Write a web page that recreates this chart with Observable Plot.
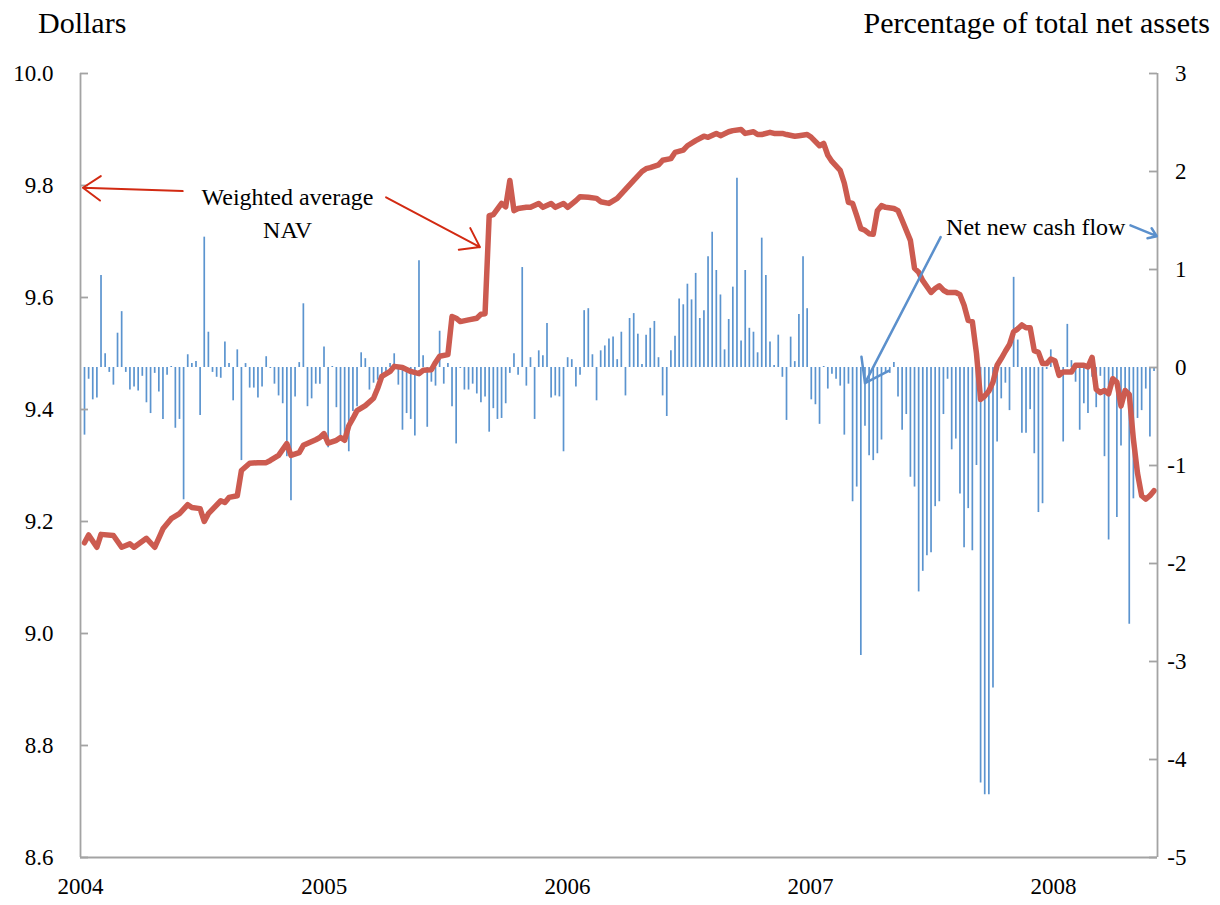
<!DOCTYPE html>
<html><head><meta charset="utf-8">
<script src="https://cdn.jsdelivr.net/npm/d3@7"></script>
<script src="https://cdn.jsdelivr.net/npm/@observablehq/plot@0.6"></script>
<style>
body{margin:0;background:#fff;}
#wrap{position:relative;width:1220px;font-family:'Liberation Serif','DejaVu Serif',serif;color:#000;}
#head{position:relative;height:45px;}
#head span{position:absolute;top:8px;font-size:30px;line-height:30px;white-space:nowrap;}
</style></head><body>
<div id="wrap"><div id="head"><span style="left:38px">Dollars</span><span style="right:10px">Percentage of total net assets</span></div><div id="chart"></div></div>
<script>
// Net new cash flow, percentage of total net assets (one value per period)
const flows = [
-0.69,-0.12,-0.33,-0.31,0.94,0.14,-0.05,-0.18,0.35,0.57,
-0.05,-0.23,-0.20,-0.24,-0.09,-0.36,-0.47,-0.06,-0.25,-0.53,
-0.08,0.01,-0.62,-0.53,-1.35,0.13,0.04,0.06,-0.49,1.33,
0.36,-0.05,-0.10,-0.11,0.26,0.04,-0.34,0.18,-0.95,0.04,
-0.21,-0.21,-0.31,-0.20,
0.11,-0.01,-0.17,-0.29,-0.37,-0.91,-1.36,-0.30,0.05,0.65,
-0.40,-0.32,-0.17,-0.17,0.21,-0.82,0.01,-0.41,-0.74,-0.77,
-0.86,-0.45,-0.40,0.15,0.09,-0.23,-0.16,-0.13,-0.08,-0.07,
0.04,0.14,-0.18,-0.64,-0.47,-0.53,-0.70,1.09,0.12,-0.61,
-0.15,-0.19,0.37,
-0.17,0.04,-0.40,-0.78,-0.01,-0.23,-0.23,-0.17,-0.27,-0.36,
-0.30,-0.66,-0.42,-0.53,-0.52,-0.37,-0.06,0.14,-0.08,1.02,
-0.19,0.10,-0.53,0.17,0.12,0.45,-0.31,-0.29,-0.30,-0.86,
0.10,0.08,-0.20,-0.08,0.58,0.60,0.13,-0.34,0.17,0.22,
0.29,0.31,0.08,
0.36,-0.29,0.50,0.55,0.34,0.03,0.33,0.40,0.47,0.10,
-0.29,-0.50,0.17,0.32,0.70,0.64,0.85,0.69,0.96,0.50,
0.58,1.13,1.38,0.99,0.74,0.18,0.49,0.82,1.93,0.27,
0.99,0.40,0.36,0.15,1.32,0.94,0.26,0.02,0.33,-0.10,
-0.54,0.31,0.06,0.54,1.13,0.60,
-0.33,-0.38,-0.58,0.01,-0.22,-0.07,-0.12,-0.19,-0.69,-0.17,
-1.37,-1.22,-2.94,-0.60,-0.90,-0.95,-0.88,-0.74,-0.06,-0.06,
0.05,-0.30,-0.64,-0.48,-1.12,-1.22,-2.29,-2.08,-1.92,-1.89,
-1.42,-1.37,-0.48,-0.12,-0.84,-0.73,-1.29,-1.84,-1.44,-1.87,
-1.00,-4.24,-4.36,-4.36,-3.27,-0.76,-0.32,-0.16,-0.44,0.92,
0.28,-0.67,-0.67,-0.43,-0.88,-1.48,-1.39,-0.02,0.18,0.02,
-0.05,-0.76,0.44,0.07,-0.15,-0.64,-0.37,-0.47,-0.10,-0.41,
-0.09,-0.91,-1.76,-0.11,-1.53,-0.80,-0.22,-2.62,-1.34,-0.52,
-0.44,-0.22,-0.71,-0.04
];
// Weighted average NAV (dollars), read at these periods
const navPeriod = [0,1,3,4,7,9,11,12,15,17,19,21,23,25,26,28,29,30,33,34,35,37,38,40,42,44,45,47,49,50,52,53,56,57,58,59,61,62,63,64,65,66,68,70,71,72,74,75,77,79,81,82,84,85,86,88,89,90,91,93,95,96,97,98,99,101,102,103,104,105,107,108,110,111,113,114,116,117,119,120,122,124,125,127,129,131,133,135,136,137,139,140,142,143,145,146,148,150,151,153,154,156,157,159,160,162,163,164,166,167,169,170,172,173,175,176,178,179,180,181,183,184,185,186,187,188,189,190,191,192,193,194,196,197,198,200,201,202,203,205,206,207,208,209,211,212,213,214,215,216,217,218,219,220,221,222,223,224,225,226,227,228,229,230,231,232,233,234,235,236,237,239,240,242,243,244,245,246,247,248,249,250,251,252,253,254,255,256,257,258,259];
const navValue = [9.162,9.176,9.154,9.177,9.175,9.154,9.160,9.154,9.170,9.154,9.187,9.205,9.214,9.230,9.225,9.223,9.200,9.214,9.237,9.234,9.243,9.246,9.291,9.304,9.305,9.305,9.309,9.318,9.339,9.318,9.323,9.336,9.346,9.350,9.357,9.340,9.345,9.350,9.345,9.371,9.384,9.398,9.407,9.420,9.438,9.459,9.468,9.477,9.475,9.468,9.464,9.470,9.471,9.484,9.495,9.498,9.566,9.563,9.557,9.560,9.563,9.570,9.571,9.746,9.748,9.768,9.762,9.809,9.755,9.759,9.761,9.761,9.768,9.761,9.768,9.761,9.768,9.761,9.773,9.780,9.779,9.777,9.771,9.768,9.777,9.793,9.809,9.825,9.830,9.832,9.837,9.845,9.848,9.859,9.863,9.871,9.880,9.888,9.886,9.893,9.889,9.896,9.898,9.900,9.893,9.896,9.891,9.891,9.895,9.893,9.893,9.891,9.888,9.889,9.891,9.886,9.871,9.875,9.854,9.843,9.827,9.804,9.770,9.768,9.746,9.723,9.720,9.714,9.713,9.755,9.764,9.761,9.759,9.755,9.738,9.702,9.652,9.645,9.630,9.609,9.616,9.621,9.613,9.609,9.609,9.605,9.586,9.559,9.557,9.500,9.418,9.424,9.433,9.449,9.479,9.491,9.504,9.516,9.539,9.544,9.551,9.546,9.546,9.505,9.502,9.482,9.482,9.490,9.487,9.461,9.467,9.467,9.479,9.479,9.476,9.493,9.436,9.430,9.434,9.428,9.455,9.449,9.406,9.434,9.427,9.347,9.286,9.246,9.240,9.246,9.255];
const dollarTicks = [8.6, 8.8, 9.0, 9.2, 9.4, 9.6, 9.8, 10.0];
const pctTicks = [-5, -4, -3, -2, -1, 0, 1, 2, 3];
const yearTicks = [2004, 2005, 2006, 2007, 2008];
const navLabel = "Weighted average\nNAV";
const flowLabel = "Net new cash flow";

// time layout of the periods
const firstDate = Date.UTC(2004, 0, 7);
const stepDays = 6.2;
const dateOf = i => new Date(firstDate + i * stepDays * 864e5);
const yearDate = y => new Date(Date.UTC(Math.floor(y), 0, 1) + (y - Math.floor(y)) * 365.25 * 864e5);
const xDomain = [new Date(Date.UTC(2004, 0, 1)), new Date(Date.UTC(2008, 5, 5))];

// dual axis: dollars mapped onto the percentage scale
const toPct = v => (v - 8.6) / 1.4 * 8 - 5;
const fromPct = p => (p + 5) / 8 * 1.4 + 8.6;

const flowData = flows.map((v, i) => ({date: dateOf(i), flow: v}));
const navData = navPeriod.map((p, j) => ({date: dateOf(p), nav: navValue[j]}));

// annotations (in data units: fractional year, dollars or percent)
const redArrows = [
  {x1: 2004.42, y1: toPct(9.790), x2: 2004.01, y2: toPct(9.796)},
  {x1: 2005.254, y1: toPct(9.779), x2: 2005.64, y2: toPct(9.690)}
];
const blueArrows = [
  {x1: 2008.316, y1: 1.45, x2: 2008.424, y2: 1.34},
  {x1: 2007.535, y1: 1.33, x2: 2007.224, y2: -0.16}
];
const labels = [
  {x: 2004.851, y: toPct(9.754), text: navLabel},
  {x: 2007.926, y: 1.46, text: flowLabel}
];

// inward tick length: 8 px of the 1077 px wide plot area
const W = 1220, mL = 80, mR = 63;
const tickSpan = 8 / (W - mL - mR) * (xDomain[1] - xDomain[0]);
const x0 = xDomain[0], x1 = xDomain[1];
const x0t = new Date(+x0 + tickSpan), x1t = new Date(+x1 - tickSpan);

const axisColor = "#a3a3a3";
const chart = Plot.plot({
  width: W, height: 860,
  marginLeft: mL, marginRight: mR, marginTop: 28, marginBottom: 48,
  style: {fontFamily: "'Liberation Serif','DejaVu Serif',serif", fontSize: "23px", color: "#000", background: "#fff", overflow: "visible"},
  x: {type: "utc", domain: xDomain},
  y: {domain: [-5, 3]},
  marks: [
    Plot.ruleX(flowData, {x: "date", y1: 0, y2: "flow", stroke: "#5b94cf", strokeWidth: 1.7}),
    Plot.line(navData, {x: "date", y: d => toPct(d.nav), stroke: "#cc5b50", strokeWidth: 5.5, strokeLinejoin: "round", strokeLinecap: "round"}),
    Plot.ruleY([-5], {stroke: axisColor, strokeWidth: 1.8}),
    Plot.ruleX(xDomain, {stroke: axisColor, strokeWidth: 1.8}),
    Plot.ruleY(dollarTicks.map(toPct), {x1: x0, x2: x0t, y: d => d, stroke: axisColor, strokeWidth: 1.8}),
    Plot.ruleY(pctTicks, {x1: x1t, x2: x1, y: d => d, stroke: axisColor, strokeWidth: 1.8}),
    Plot.axisY(dollarTicks.map(toPct), {anchor: "left", tickSize: 0, tickPadding: 27, tickFormat: d => fromPct(d).toFixed(1), label: null}),
    Plot.axisY(pctTicks, {anchor: "right", tickSize: 0, tickPadding: 29, textAnchor: "end", tickFormat: d => String(d), label: null}),
    Plot.axisX(yearTicks.map(y => new Date(Date.UTC(y, 0, 1))), {tickSize: 0, tickPadding: 20, tickFormat: d => String(d.getUTCFullYear()), label: null}),
    Plot.arrow(redArrows, {x1: d => yearDate(d.x1), y1: "y1", x2: d => yearDate(d.x2), y2: "y2", stroke: "#d22a12", strokeWidth: 2, headLength: 16, headAngle: 70}),
    Plot.arrow(blueArrows, {x1: d => yearDate(d.x1), y1: "y1", x2: d => yearDate(d.x2), y2: "y2", stroke: "#5b90cc", strokeWidth: 2.5, headLength: 16, headAngle: 70}),
    Plot.text(labels, {x: d => yearDate(d.x), y: "y", text: "text", fontSize: 24, lineHeight: 1.38, fill: "#000"})
  ]
});
document.getElementById("chart").appendChild(chart);
</script>
</body></html>
